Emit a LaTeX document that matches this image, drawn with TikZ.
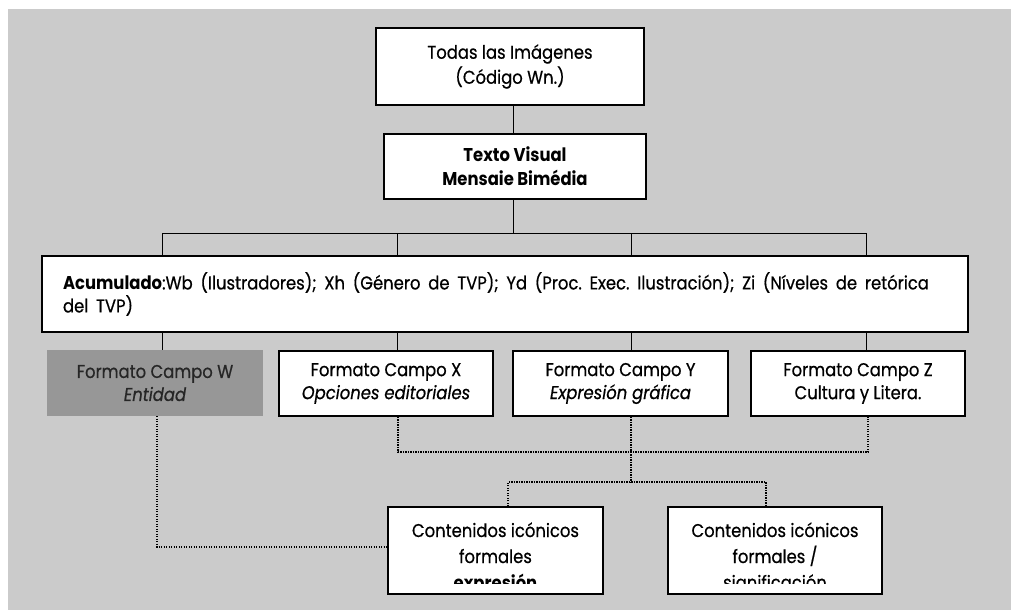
\documentclass[tikz,border=0pt]{standalone}
\usepackage{fontspec}
\usetikzlibrary{calc}

% measure one reference line at the working size, then narrow the face to fit
\newfontfamily\probefont{Poppins}
\newlength\reflen
\settowidth\reflen{\probefont\fontsize{18.5pt}{20pt}\selectfont Contenidos icónicos}
\pgfmathsetmacro\stretchval{167/\reflen}
\setmainfont{Poppins}[FakeStretch=\stretchval,
  UprightFeatures={FakeBold=0.6}, ItalicFeatures={FakeBold=0.6}]

% a little more room between words
\newcommand\widerspaces{\spaceskip=\dimexpr\fontdimen2\font+3.4pt\relax}

\definecolor{bggray}{HTML}{CBCBCB}
\definecolor{wgray}{HTML}{979797}

\begin{document}
\frenchspacing
\begin{tikzpicture}[x=1pt,y=-1pt,
  every node/.style={font=\fontsize{18.5pt}{23pt}\selectfont},
  box/.style={draw=black, line width=1.6pt, fill=white, inner sep=0pt, align=center},
  conn/.style={draw=black, line width=0.9pt},
  dots/.style={draw=black, line width=1.2pt, dash pattern=on 1.2pt off 1.3pt}]

\useasboundingbox (0,0) rectangle (1011,610);
\fill[bggray] (8,9) rectangle (1011,610);

% top of the hierarchy
\node[box, minimum width=268pt, minimum height=77pt, font=\fontsize{18.5pt}{25pt}\selectfont] (todas) at (510,66.5)
  {Todas las Imágenes\\(Código Wn.)};
\node[box, minimum width=262pt, minimum height=65pt, font=\fontsize{18.5pt}{24pt}\selectfont\bfseries] (texto) at (515,166.5)
  {Texto Visual\\Mensaie Bimédia};

% accumulated codes
\node[box, minimum width=926pt, minimum height=76pt, text width=884pt, align=left] (acum) at (505,294)
  {\widerspaces\textbf{Acumulado}:Wb (Ilustradores); Xh (Género de TVP); Yd (Proc. Exec. Ilustración); Zi (Níveles de retórica\\del TVP)};

% field formats
\node[fill=wgray, inner sep=0pt, align=center, minimum width=216pt, minimum height=66pt, text=black!85] (fw) at (155,383)
  {Formato Campo W\\\textit{Entidad}};
\node[box, minimum width=214pt, minimum height=65pt] (fx) at (386,383.5)
  {Formato Campo X\\\textit{Opciones editoriales}};
\node[box, minimum width=215pt, minimum height=65pt] (fy) at (620.5,383.5)
  {Formato Campo Y\\\textit{Expresión gráfica}};
\node[box, minimum width=214pt, minimum height=65pt] (fz) at (858,383.5)
  {Formato Campo Z\\Cultura y Litera.};

% iconic contents, lower line cut by the box
\node[box, minimum width=215pt, minimum height=87pt] (bl) at (495.5,550.5) {};
\node[box, minimum width=214pt, minimum height=87pt] (br) at (775,550.5) {};
\begin{scope}
  \clip (bl.north west) rectangle ($(bl.south east)+(0,-11)$);
  \node[anchor=base, align=center, font=\fontsize{18.5pt}{26pt}\selectfont] (bltext) at (495.5,589)
    {Contenidos icónicos\\formales\\\textbf{expresión}};
\end{scope}
\begin{scope}
  \clip (br.north west) rectangle ($(br.south east)+(0,-11)$);
  \node[anchor=base, align=center, font=\fontsize{18.5pt}{26pt}\selectfont] (brtext) at (775,589)
    {Contenidos icónicos\\formales /\\significación};
\end{scope}

% solid tree connectors
\coordinate (bus) at (513,233);
\coordinate (dW) at (162,233);
\coordinate (dX) at (397,233);
\coordinate (dY) at (631,233);
\coordinate (dZ) at (866,233);
\draw[conn] (todas.south -| bus) -- (texto.north -| bus);
\draw[conn] (texto.south -| bus) -- (bus);
\draw[conn] (dW) -- (dZ);
\foreach \d in {dW,dX,dY,dZ}
  \draw[conn] (\d) -- (\d |- acum.north);
\foreach \d/\f in {dW/fw,dX/fx,dY/fy,dZ/fz}
  \draw[conn] (acum.south -| \d) -- (\f.north -| \d);

% dotted links to the iconic contents
\coordinate (jW) at (157,547);
\draw[dots] (fw.south -| jW) -- (jW) -- (jW -| bl.west);
\coordinate (jX) at (398,452);
\coordinate (jZ) at (868,452);
\draw[dots] (fx.south -| jX) -- (jX) -- (jZ) -- (fz.south -| jZ);
\coordinate (jY) at (631,482);
\draw[dots] (fy.south -| jY) -- (jY);
\coordinate (jL) at (508,482);
\coordinate (jR) at (766,482);
\draw[dots] (bl.north -| jL) -- (jL) -- (jR) -- (br.north -| jR);
\end{tikzpicture}
\end{document}
